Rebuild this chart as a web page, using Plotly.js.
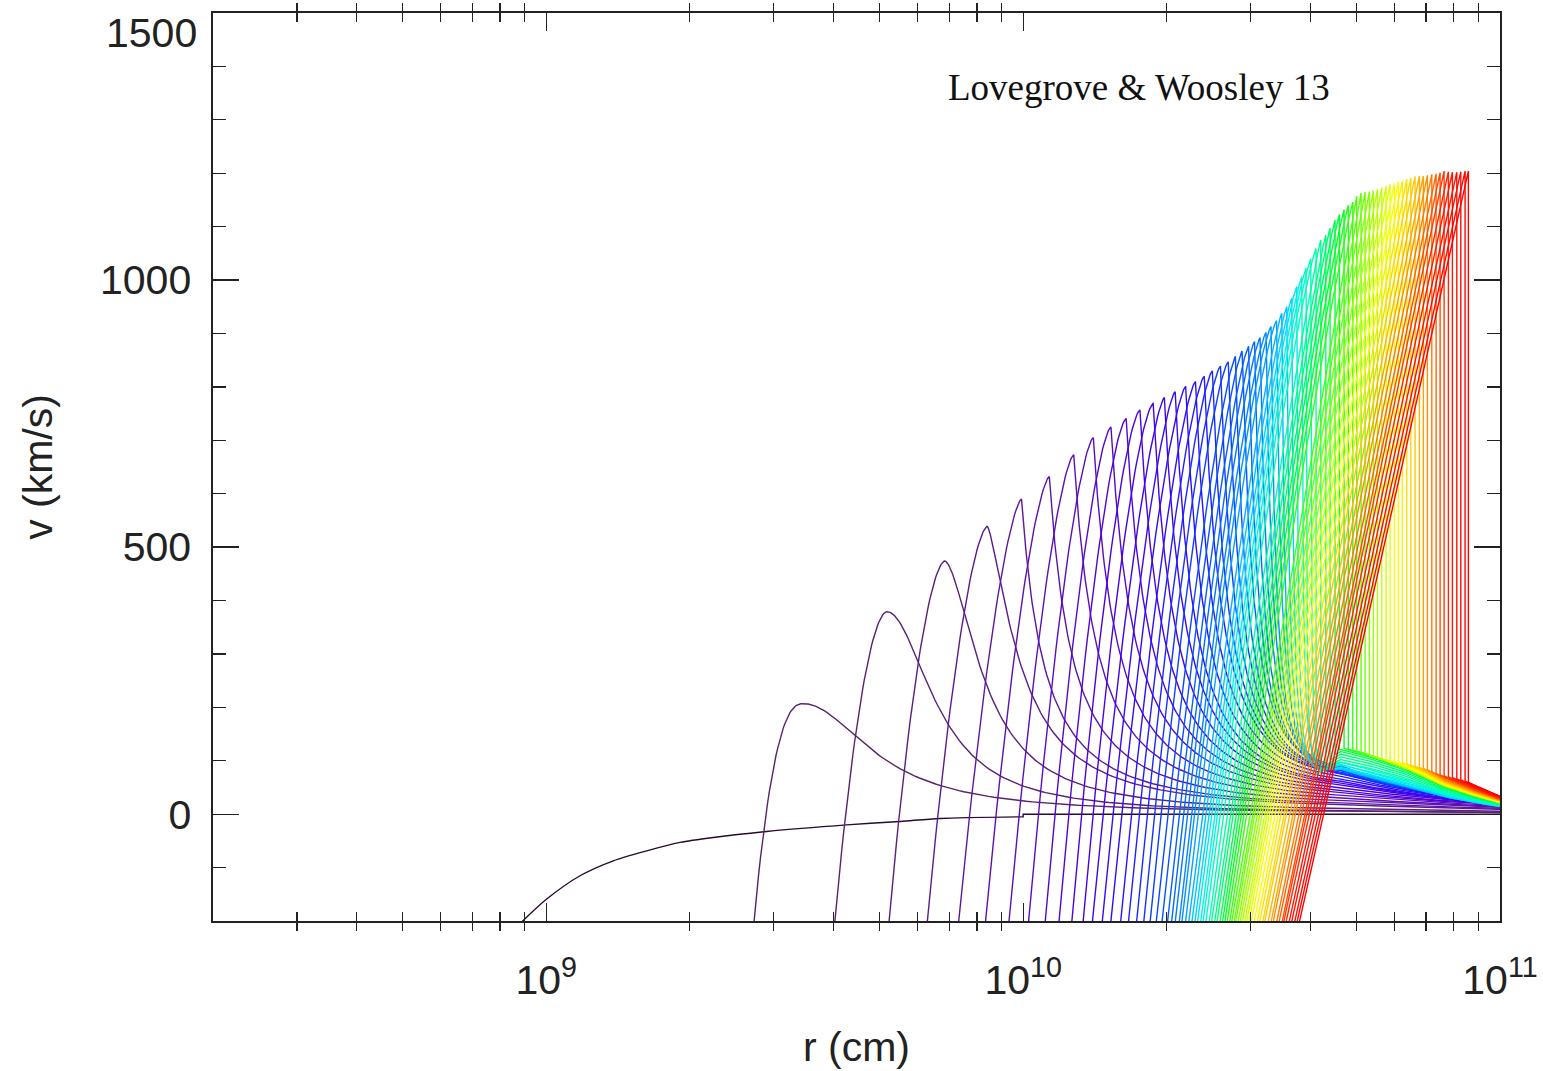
<!DOCTYPE html>
<html><head><meta charset="utf-8">
<script src="https://cdn.plot.ly/plotly-3.0.1.min.js"></script>
<style>html,body{margin:0;padding:0;background:#fff;}#chart{width:1543px;height:1071px;}</style>
</head><body><div id="chart"></div>
<script>
// ---------- axis ticks ----------
const xMinorTicks = [3e8,4e8,5e8,6e8,7e8,8e8,9e8,2e9,3e9,4e9,5e9,6e9,7e9,8e9,9e9,2e10,3e10,4e10,5e10,6e10,7e10,8e10,9e10];
const xMajorTicks = [1e9,1e10,1e11];
const xMajorLabels = ['10<sup>9</sup>','10<sup>10</sup>','10<sup>11</sup>'];
const yMinorTicks = [-100,100,200,300,400,600,700,800,900,1100,1200,1300,1400];
const yMajorTicks = [0,500,1000];
const yMajorLabels = ['0','500','1000'];
const yTopTick = [1500];

// ---------- first (infall) profile: smooth part, then the step to rest at 1e10 ----------
const firstLogR = [8.935,8.9505,9.0008,9.0707,9.1405,9.2106,9.2804,9.3502,9.4622,9.6300,9.7418,9.8257,9.9970];
const firstV    = [-214,-200,-158.9,-115.3,-87.3,-68.6,-52.9,-43.6,-32.3,-20.0,-13.6,-8.0,-5.0];
const firstOuterLogR = [9.9970,10.0,10.0,11.0];
const firstOuterV    = [-5.0,-5.0,0,0];

// ---------- shock profiles: peak position / velocity ----------
const peakLogR = [9.5384,9.7139,9.8356,9.9249,9.9966,10.0549,10.1061,10.1472,10.1841,10.2160,
 10.2449,10.2726,10.2961,10.3188,10.3408,10.3614,10.3798,10.3968,10.4138,10.4302,
 10.4451,10.4591,10.4727,10.4853,10.4969,10.5094,10.5199,10.5315,10.5424,10.5529,
 10.5633,10.5738,10.5843,10.5933,10.6032,10.6143,10.6242,10.6347,10.6437,10.6541,
 10.6632,10.6730,10.6820,10.6913,10.6996,10.7087,10.7171,10.7261,10.7345,10.7429,
 10.7521,10.7611,10.7695,10.7785,10.7869,10.7953,10.8045,10.8129,10.8219,10.8310,
 10.8393,10.8477,10.8570,10.8660,10.8744,10.8828,10.8918,10.9002,10.9094,10.9178,
 10.9268,10.9337];
const peakV = [207,379,474,539,590,632,673,705,725,741,
 757,769,780,791,801,810,820,830,839,847,
 857,867,876,885,892,902,913,924,938,950,
 966,988,1006,1022,1040,1059,1075,1084,1097,1112,
 1123,1132,1140,1146,1157,1163,1165,1166,1168,1170,
 1173,1176,1179,1181,1184,1186,1189,1191,1194,1195,
 1195,1196,1198,1199,1201,1204,1203,1202,1202,1203,
 1204,1204];
// width (dex) of the rising front from -200 up to the peak, and its curvature
const riseDex = [0.103,0.109,0.117,0.126,0.132,0.134,0.136,0.136,0.138,0.141,
 0.143,0.147,0.151,0.153,0.157,0.157,0.159,0.159,0.161,0.164,
 0.166,0.168,0.170,0.174,0.178,0.182,0.187,0.191,0.195,0.199,
 0.203,0.208,0.212,0.216,0.220,0.224,0.229,0.233,0.237,0.241,
 0.245,0.250,0.254,0.258,0.262,0.266,0.271,0.275,0.279,0.283,
 0.287,0.292,0.296,0.300,0.302,0.304,0.308,0.310,0.315,0.317,
 0.319,0.323,0.325,0.329,0.331,0.336,0.340,0.342,0.346,0.348,
 0.352,0.354];
const riseExp = [2.4,1.8,1.7,1.6,1.5,1.5,1.5,1.5,1.5,1.5,
 1.5,1.5,1.4,1.4,1.4,1.4,1.4,1.4,1.4,1.4,
 1.3,1.3,1.3,1.3,1.3,1.3,1.3,1.3,1.2,1.2,
 1.2,1.2,1.2,1.2,1.2,1.2,1.1,1.1,1.1,1.1,
 1.1,1.1,1.1,1.1,1,1,1,1,1,1,
 1,1,1,1,1,1,1,1,1,1,
 1,1,1,1,1,1,1,1,1,1,
 1,1];
// decay behind the peak: width (dex), sharpness and steepness
const fallDex = [0.170,0.115,0.094,0.084,0.073,0.073,0.073,0.073,0.073,0.071,
 0.069,0.067,0.065,0.061,0.059,0.057,0.055,0.050,0.046,0.042,
 0.038,0.036,0.031,0.027,0.025,0.021,0.017,0.015,0.010,0.008,
 0.006,0.004,0.004,0.002,0.002,0,0,0,0,0,
 0,0,0,0,0,0,0,0,0,0,
 0,0,0,0,0,0,0,0,0,0,
 0,0,0,0,0,0,0,0,0,0,
 0,0];
const fallK = [2,2,1.7,1.4];   // remaining curves: 1
const fallP = [2,2,1.8,1.6];   // remaining curves: 1.5
// amplitude of the slow outer flow relative to the reference tail below
const tailAmp = [0.01,0.01,0.015,0.02,0.025,0.03,0.035,0.04,0.05,0.06,
 0.08,0.10,0.11,0.13,0.15,0.17,0.19,0.21,0.23,0.26,
 0.28,0.31,0.34,0.37,0.40,0.43,0.46,0.50,0.53,0.56,
 0.60,0.64,0.67,0.71,0.74,0.78,0.82,0.86,0.90,0.94,
 0.97,1.00,1.00,1.00,1.00,1.00,1.00,1.00,1.00,1.00,
 1.01,1.02,1.03,1.04,1.06,1.08,1.10,1.12,1.14,1.16,
 1.19,1.22,1.25,1.28,1.31,1.34,1.38,1.42,1.46,1.50,
 1.53,1.55];
// reference outer-flow velocity profile (km/s)
const tailLogR = [10.1614,10.3711,10.5389,10.6228,10.6648,10.7067,10.7487,10.7906,10.8326,10.8745,10.9165,10.9584,11.0004];
const tailV    = [10,25,55,100,125,116,104,91,75,56,43,32,21];

// colour table (dark purple -> blue -> cyan -> green -> yellow -> red)
const colorStops = [[0,'#2a0a30'],[0.014,'#56246a'],[0.04,'#5a1f7c'],[0.07,'#5e16a0'],[0.11,'#5a0cc0'],
 [0.16,'#4a00e0'],[0.22,'#2a10ff'],[0.28,'#0a40ff'],[0.34,'#0070ff'],[0.38,'#0098ff'],[0.42,'#00c8ff'],
 [0.45,'#00eef0'],[0.49,'#00ffc0'],[0.54,'#00ff70'],[0.58,'#00ff20'],[0.64,'#60ff00'],[0.70,'#b8ff00'],
 [0.76,'#ffff00'],[0.82,'#ffc800'],[0.86,'#ff9000'],[0.90,'#ff5000'],[0.94,'#ff1800'],[1.0,'#ff0000']];

function interp(xs, ys, x){
  if (x <= xs[0]) return ys[0];
  const n = xs.length;
  if (x >= xs[n-1]) return ys[n-1];
  for (let i=1;i<n;i++){ if (x <= xs[i]){ const f=(x-xs[i-1])/(xs[i]-xs[i-1]); return ys[i-1]+f*(ys[i]-ys[i-1]); } }
  return ys[n-1];
}
function hex2rgb(h){ return [parseInt(h.slice(1,3),16),parseInt(h.slice(3,5),16),parseInt(h.slice(5,7),16)]; }
function colorAt(t){
  for (let i=1;i<colorStops.length;i++){
    if (t <= colorStops[i][0]){
      const a=colorStops[i-1], b=colorStops[i];
      const f=(t-a[0])/(b[0]-a[0]);
      const ca=hex2rgb(a[1]), cb=hex2rgb(b[1]);
      return 'rgb('+ca.map((c,k)=>Math.round(c+f*(cb[k]-c))).join(',')+')';
    }
  }
  return colorStops[colorStops.length-1][1];
}

const nCurves = peakLogR.length + 1;
const traces = [];
traces.push({x:firstLogR.map(l=>Math.pow(10,l)), y:firstV, type:'scatter', mode:'lines',
  line:{color:colorAt(0), width:1.4, shape:'spline', smoothing:0.8}, hoverinfo:'skip', showlegend:false});
traces.push({x:firstOuterLogR.map(l=>Math.pow(10,l)), y:firstOuterV, type:'scatter', mode:'lines',
  line:{color:colorAt(0), width:1.4}, hoverinfo:'skip', showlegend:false});

for (let i=0;i<peakLogR.length;i++){
  const Lp=peakLogR[i], vp=peakV[i], D=riseDex[i], n=riseExp[i];
  const w=fallDex[i], k=(i<fallK.length)?fallK[i]:1, p=(i<fallP.length)?fallP[i]:1.5, amp=tailAmp[i];
  const L=[], V=[];
  const dmax = D*Math.pow((vp+260)/(vp+200),1/n);
  const N=40;
  for (let j=0;j<=N;j++){
    const d = dmax*Math.pow(1-j/N,1.5);
    L.push(Lp-d); V.push(vp-(vp+200)*Math.pow(d/D,n));
  }
  const t0 = amp*interp(tailLogR,tailV,Lp);
  if (w<=0){ L.push(Lp); V.push(t0); }
  const Lend=11.01, M=140;
  for (let j=1;j<=M;j++){
    const dl=(Lend-Lp)*Math.pow(j/M,2);
    const x=Lp+dl;
    const base=amp*interp(tailLogR,tailV,x);
    const g = w>0 ? Math.pow(1+Math.pow(dl/w,k),-p/k) : 0;
    L.push(x); V.push(base+(vp-t0)*g);
  }
  traces.push({x:L.map(l=>Math.pow(10,l)), y:V, type:'scatter', mode:'lines',
    line:{color:colorAt((i+1)/(nCurves-1)), width:1.4}, hoverinfo:'skip', showlegend:false});
}
// empty traces binding the overlay axes that carry the extra tick marks
traces.push({x:[], y:[], xaxis:'x2', yaxis:'y2', type:'scatter', mode:'lines', showlegend:false, hoverinfo:'skip'});
traces.push({x:[], y:[], xaxis:'x2', yaxis:'y3', type:'scatter', mode:'lines', showlegend:false, hoverinfo:'skip'});

const tickFont = {family:'Liberation Sans, Arial, sans-serif', size:41, color:'#222'};
const xr=[Math.log10(2e8), 11];
const yr=[-200,1500];
const layout = {
  width:1543, height:1071,
  margin:{l:213, r:43, t:13, b:150},
  paper_bgcolor:'#fff', plot_bgcolor:'#fff',
  showlegend:false,
  xaxis:{type:'log', range:xr, showgrid:false, zeroline:false,
    showline:true, linecolor:'#222', linewidth:1.6, mirror:'allticks',
    tickmode:'array', tickvals:xMajorTicks, ticktext:xMajorLabels,
    ticks:'inside', ticklen:18, tickwidth:1.3, tickcolor:'#222',
    tickfont:tickFont, ticklabelstandoff:22,
    title:{text:'r (cm)', font:tickFont, standoff:30}},
  xaxis2:{type:'log', range:xr, overlaying:'x', anchor:'y', side:'bottom',
    showgrid:false, zeroline:false, showline:false, mirror:'allticks',
    tickmode:'array', tickvals:xMinorTicks, showticklabels:false,
    ticks:'inside', ticklen:9, tickwidth:1.3, tickcolor:'#222'},
  yaxis:{range:yr, showgrid:false, zeroline:false,
    showline:true, linecolor:'#222', linewidth:1.6, mirror:'allticks',
    tickmode:'array', tickvals:yMajorTicks, ticktext:yMajorLabels,
    ticks:'inside', ticklen:26, tickwidth:1.3, tickcolor:'#222',
    tickfont:tickFont, ticklabelstandoff:12,
    title:{text:'v (km/s)', font:tickFont, standoff:34}},
  yaxis2:{range:yr, overlaying:'y', anchor:'x', side:'left',
    showgrid:false, zeroline:false, showline:false, mirror:'allticks',
    tickmode:'array', tickvals:yMinorTicks, showticklabels:false,
    ticks:'inside', ticklen:13, tickwidth:1.3, tickcolor:'#222'},
  yaxis3:{range:yr, overlaying:'y', anchor:'x', side:'left',
    showgrid:false, zeroline:false, showline:false, mirror:'allticks',
    tickmode:'array', tickvals:yTopTick, showticklabels:false,
    ticks:'inside', ticklen:26, tickwidth:1.3, tickcolor:'#222'},
  annotations:[
    {text:'Lovegrove &amp; Woosley 13', xref:'paper', yref:'paper', x:0.7195, y:0.918,
     xanchor:'center', yanchor:'middle', showarrow:false,
     font:{family:'Liberation Serif, Times New Roman, serif', size:37, color:'#111'}},
    {text:'1500', xref:'paper', yref:'y', x:0, y:1500, xanchor:'right', yanchor:'middle',
     xshift:-14, yshift:-20, showarrow:false, font:tickFont}
  ]
};
Plotly.newPlot('chart', traces, layout, {staticPlot:true, displayModeBar:false});
</script>
</body></html>
